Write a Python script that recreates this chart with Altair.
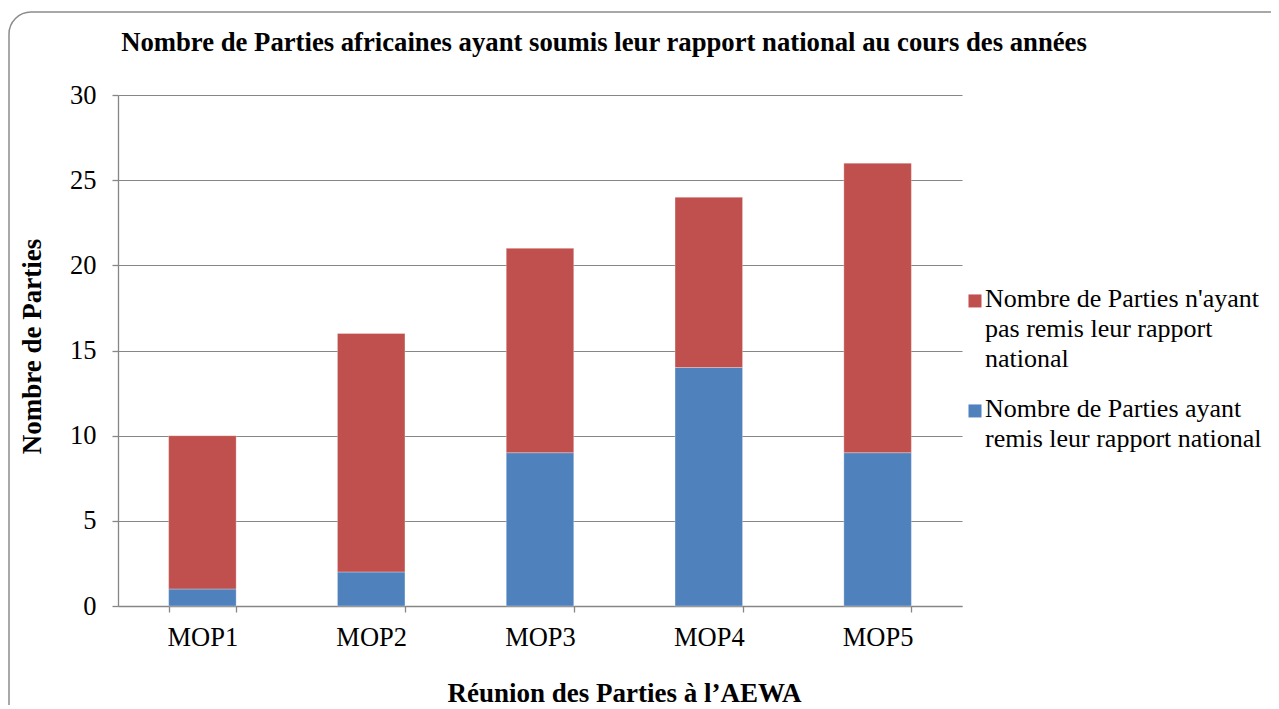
import altair as alt
import pandas as pd

categories = ["MOP1", "MOP2", "MOP3", "MOP4", "MOP5"]
submitted = [1, 2, 9, 14, 9]
not_submitted = [9, 14, 12, 10, 17]
series_submitted = "Nombre de Parties ayant\nremis leur rapport national"
series_not = "Nombre de Parties n'ayant\npas remis leur rapport\nnational"
y_ticks = [0, 5, 10, 15, 20, 25, 30]

rows = []
for c, s, n in zip(categories, submitted, not_submitted):
    rows.append({"cat": c, "series": series_submitted, "value": s, "ord": 0})
    rows.append({"cat": c, "series": series_not, "value": n, "ord": 1})
df = pd.DataFrame(rows)

FONT = "Liberation Serif"
GRAY = "#868686"

bars = alt.Chart(df).mark_bar(stroke="white", strokeWidth=0.5, strokeOpacity=0.6).encode(
    x=alt.X("cat:N", sort=categories,
            scale=alt.Scale(paddingInner=0.6, paddingOuter=0.3),
            axis=alt.Axis(title="Réunion des Parties à l’AEWA", labelAngle=0,
                          tickBand="extent", tickSize=6, labelPadding=12,
                          titleX=506, titleY=87, titleBaseline="middle",
                          titleAnchor="middle", titleAlign="center")),
    y=alt.Y("value:Q", stack="zero",
            scale=alt.Scale(domain=[0, 30], nice=False),
            axis=alt.Axis(title="Nombre de Parties", values=y_ticks, tickSize=6,
                          labelPadding=16, titleX=-86, titleY=251,
                          titleBaseline="middle", titleAlign="center", titleAngle=-90)),
    color=alt.Color("series:N",
                    scale=alt.Scale(domain=[series_not, series_submitted],
                                    range=["#C0504D", "#4F81BD"]),
                    legend=alt.Legend(title=None, orient="none", legendX=841, legendY=178,
                                      symbolType="M-0.54,1.3H1.46V3.3H-0.54Z", symbolSize=169,
                                      symbolStrokeWidth=0, labelExpr="split(datum.label, '\\n')",
                                      labelLimit=400, labelBaseline="top",
                                      labelOffset=0, rowPadding=11)),
    order=alt.Order("ord:Q"),
)

frame_df = pd.DataFrame({"k": [0]})
frame = alt.Chart(frame_df).mark_rect(fill=None, stroke="#8c8c8c", strokeWidth=1.5,
                                       cornerRadius=22, clip=False).encode(
    x=alt.value(-109), x2=alt.value(1200), y=alt.value(-83), y2=alt.value(720)
)

chart = alt.layer(frame, bars).properties(
    width=844, height=511,
    title=alt.TitleParams("Nombre de Parties africaines ayant soumis leur rapport national au cours des années",
                          anchor="middle", dx=64, dy=45, offset=0, fontSize=26.7, font=FONT,
                          fontWeight="bold", color="black"),
    autosize=alt.AutoSizeParams(type="none"),
    padding={"left": 110, "top": 87, "right": 309, "bottom": 99},
).configure(style={"guide-label": {"lineHeight": 30}}).configure_view(stroke=None).configure_axis(
    labelFont=FONT, titleFont=FONT, labelFontSize=26.5, titleFontSize=27,
    labelColor="black", titleColor="black", titleFontWeight="bold",
    domainColor=GRAY, tickColor=GRAY, gridColor=GRAY, domainWidth=1.3, tickWidth=1.3,
).configure_axisX(grid=False).configure_axisY(grid=True, gridWidth=1.2).configure_legend(
    labelFont=FONT, labelFontSize=26, labelColor="black", padding=0
)

chart.save("out.html", embed_options={"renderer": "svg", "actions": False})
